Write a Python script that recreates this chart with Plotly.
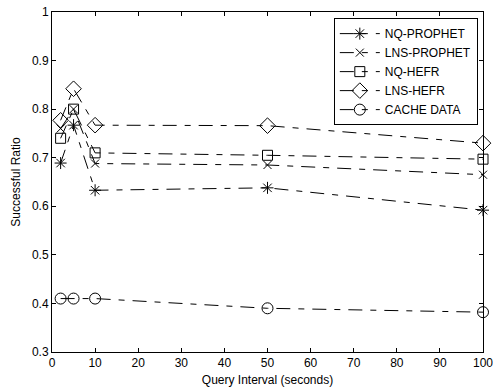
import plotly.graph_objects as go

x_vals = [2, 5, 10, 50, 100]
nq_prophet = [0.689, 0.767, 0.633, 0.638, 0.592]
lns_prophet = [0.760, 0.800, 0.688, 0.685, 0.665]
nq_hefr = [0.740, 0.800, 0.710, 0.705, 0.697]
lns_hefr = [0.777, 0.842, 0.767, 0.766, 0.730]
cache_data = [0.410, 0.410, 0.410, 0.390, 0.382]

series = [
    ("NQ-PROPHET", nq_prophet, "asterisk-open", 10),
    ("LNS-PROPHET", lns_prophet, "x-thin-open", 8),
    ("NQ-HEFR", nq_hefr, "square-open", 10),
    ("LNS-HEFR", lns_hefr, "diamond-open", 12),
    ("CACHE DATA", cache_data, "circle-open", 11),
]

fig = go.Figure()
for name, vals, sym, sz in series:
    fig.add_trace(go.Scatter(
        x=x_vals, y=vals, name=name, mode="lines+markers",
        line=dict(color="black", width=1, dash="14px,8px,6px,8px"),
        marker=dict(symbol=sym, size=sz, color="black", line=dict(width=1, color="black")),
        cliponaxis=False,
    ))

axis_common = dict(
    showline=True, linecolor="black", linewidth=1, mirror="allticks",
    ticks="inside", ticklen=4, tickcolor="black", showgrid=False, zeroline=False,
    automargin=False, ticklabeloverflow="allow",
    tickfont=dict(family="Liberation Sans, Arial", size=12, color="black"),
)

fig.update_layout(
    width=493, height=390,
    margin=dict(l=52, r=10, t=12, b=38, autoexpand=False),
    plot_bgcolor="white", paper_bgcolor="white",
    font=dict(family="Liberation Sans, Arial", size=12, color="black"),
    xaxis=dict(range=[0, 100], tickvals=list(range(0, 101, 10)),
               title=dict(text="Query Interval (seconds)", standoff=6, font=dict(size=12)),
               **axis_common),
    yaxis=dict(range=[0.3, 1.0], tickvals=[0.3, 0.4, 0.5, 0.6, 0.7, 0.8, 0.9, 1.0],
               ticktext=["0.3", "0.4", "0.5", "0.6", "0.7", "0.8", "0.9", "1"],
               title=dict(text="Successful Ratio", standoff=8, font=dict(size=12)),
               **axis_common),
    legend=dict(x=0.988, y=0.982, xanchor="right", yanchor="top",
                bordercolor="black", borderwidth=1, bgcolor="white",
                font=dict(size=12), tracegroupgap=0, itemwidth=40),
    showlegend=True,
)

fig.write_html("out.html")
